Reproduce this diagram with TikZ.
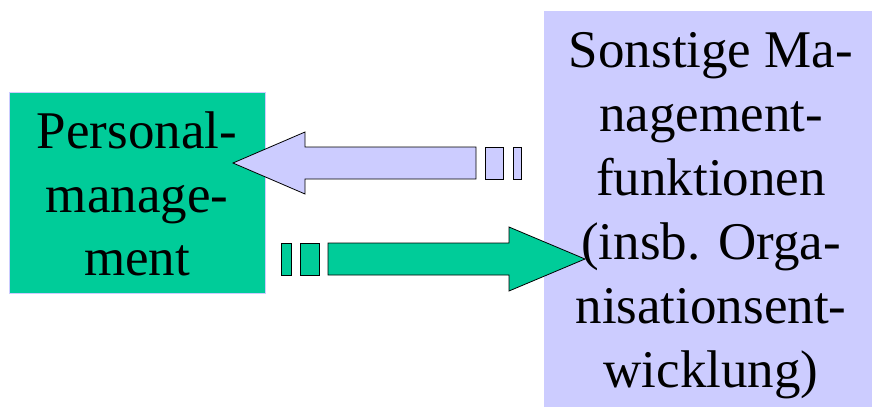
\documentclass[tikz,border=0pt]{standalone}
\usepackage{fontspec}
\setmainfont{Liberation Serif}
\definecolor{pmgreen}{HTML}{00CC99}
\definecolor{lav}{HTML}{CCCCFF}
\begin{document}
\begin{tikzpicture}[x=1pt,y=-1pt,
  txt/.style={anchor=base,inner sep=0pt,font=\fontsize{53}{63}\selectfont},
  blockarrow/.style={draw=black,line width=0.8pt,line join=miter}]
\useasboundingbox (0,0) rectangle (872,407);
% boxes
\node[draw=lav,line width=0.8pt,fill=pmgreen,minimum width=256pt,minimum height=201pt,inner sep=0pt,anchor=north west] (pm) at (9,92) {};
\node[fill=lav,minimum width=328pt,minimum height=396pt,inner sep=0pt,anchor=north west] (smf) at (544,11) {};
% left text
\node[txt] (l1) at (137,148) {Personal-};
\node[txt] (l2) at (137,212) {manage-};
\node[txt] (l3) at (137,275) {ment};
% right text
\node[txt] (r1) at (711,67) {Sonstige Ma-};
\node[txt] (r2) at (711,131) {nagement-};
\node[txt] (r3) at (711,195) {funktionen};
\node[txt] (r4) at (711,259) {(insb. Orga-};
\node[txt] (r5) at (711,323) {nisationsent-};
\node[txt] (r6) at (711,387) {wicklung)};
% upper arrow (to the left)
\draw[blockarrow,fill=lav] (233,163) -- (305,132) -- (305,147) -- (476,147) -- (476,179) -- (305,179) -- (305,194) -- cycle;
\draw[blockarrow,fill=lav] (485,147) rectangle (503,179);
\draw[blockarrow,fill=lav] (513,147) rectangle (521,179);
% lower arrow (to the right)
\draw[blockarrow,fill=pmgreen] (585,259) -- (509,227) -- (509,243) -- (328,243) -- (328,275) -- (509,275) -- (509,291) -- cycle;
\draw[blockarrow,fill=pmgreen] (281,243) rectangle (291,275);
\draw[blockarrow,fill=pmgreen] (300,243) rectangle (319,275);
\end{tikzpicture}
\end{document}
